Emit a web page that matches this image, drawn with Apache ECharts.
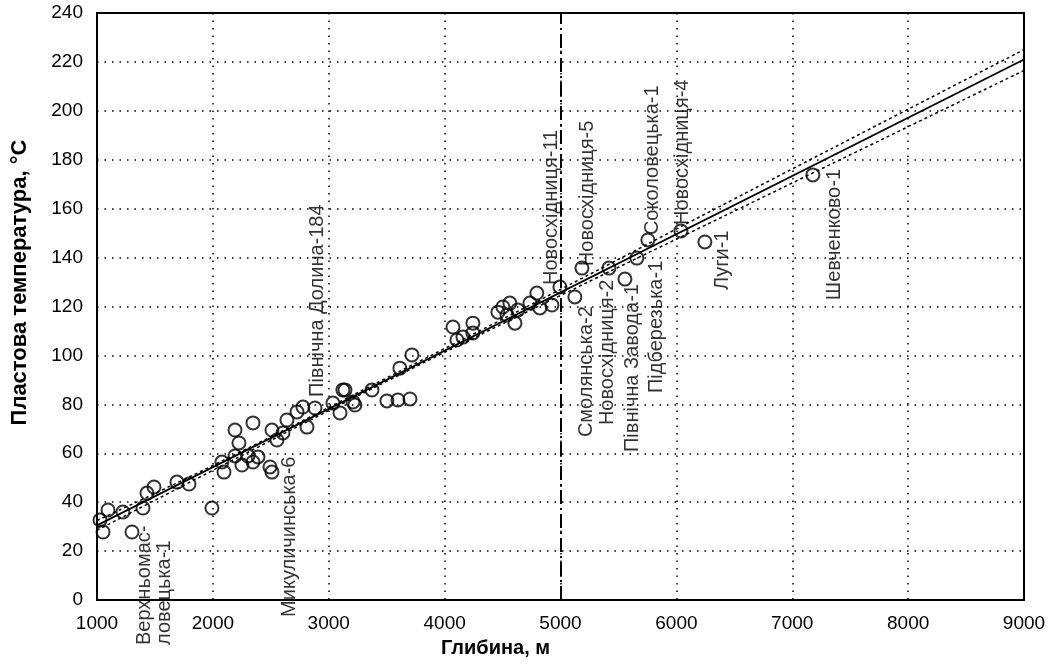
<!DOCTYPE html>
<html>
<head>
<meta charset="utf-8">
<script src="https://cdn.jsdelivr.net/npm/echarts@6/dist/echarts.min.js"></script>
<style>
  html, body { margin: 0; padding: 0; background: #fff; }
  #chart { width: 1057px; height: 664px; }
</style>
</head>
<body>
<div id="chart"></div>
<script>
// глибина (м) / пластова температура (°C)
var depth = [1052, 1026, 1095, 1224, 1302, 1397, 1431, 1492, 1690, 1794, 1992, 2078, 2096, 2191, 2225, 2191,
  2251, 2303, 2346, 2346, 2389, 2493, 2510, 2510, 2553, 2605, 2639, 2726, 2777, 2812, 2881, 3036, 3097, 3140,
  3209, 3122, 3226, 3373, 3502, 3597, 3701, 3614, 3718, 4072, 4106, 4158, 4244, 4244, 4460, 4503, 4563, 4538,
  4607, 4632, 4736, 4796, 4822, 4926, 4995,
  5124, 5185, 5418, 5556, 5659, 5754, 6039, 6246, 7178];
var temp = [27.8, 32.7, 36.8, 36, 27.8, 37.6, 43.7, 46.2, 48.2, 47.4, 37.6, 56.4, 52.3, 69.5, 64.2, 58.9,
  55.2, 58.9, 72.4, 56.4, 58.5, 54.4, 52.3, 69.5, 65.4, 68.3, 73.6, 76.9, 78.9, 70.7, 78.5, 80.5, 76.5, 85.9,
  81, 85.9, 79.7, 85.9, 81.4, 81.8, 82.2, 94.8, 100.2, 111.6, 106.3, 107.5, 113.2, 109.2, 117.7, 119.8, 121.4, 116.5,
  113.2, 118.6, 121.4, 125.5, 119.4, 120.6, 128,
  123.9, 135.7, 135.7, 131.2, 139.8, 147.2, 150.9, 146.4, 173.8];

// лінія регресії та довірчі межі
var trend = [[1000, 30.5], [9000, 221]];
var upperBand = [[1000, 32.5], [2000, 55], [3500, 90.8], [5000, 127], [6500, 164], [9000, 225]];
var lowerBand = [[1000, 28.5], [2000, 53], [3500, 89.4], [5000, 124.5], [6500, 159], [9000, 216.5]];

// підписи свердловин: назва, глибина і температура початку тексту
var wellNames = ['Верхньомас-\nловецька-1', 'Микуличинська-6', 'Північна Долина-184', 'Новосхідниця-11',
  'Новосхідниця-5', 'Смолянська-2', 'Новосхідниця-2', 'Північна Завода-1', 'Підберезька-1',
  'Соколовецька-1', 'Новосхідниця-4', 'Луги-1', 'Шевченково-1'];
var wellDepth = [1500, 2665, 2907, 4926, 5236, 5228, 5409, 5625, 5832, 5797, 6056, 6401, 7368];
var wellTemp = [-18.4, -6.9, 83, 128.8, 136.5, 66.6, 71.5, 60.5, 84.6, 149.2, 153.3, 126.7, 122.6];

var boundary = 5000;

var font = "'Liberation Sans', Arial, sans-serif";

var points = depth.map(function (d, i) { return [d, temp[i]]; });
var labels = wellNames.map(function (n, i) { return { name: n, value: [wellDepth[i], wellTemp[i]] }; });

var chart = echarts.init(document.getElementById('chart'));
chart.setOption({
  animation: false,
  backgroundColor: '#fff',
  grid: {
    left: 97, right: 33, top: 13, bottom: 64,
    show: true, borderColor: '#000', borderWidth: 2
  },
  xAxis: {
    type: 'value', min: 1000, max: 9000, interval: 1000,
    name: 'Глибина, м', nameLocation: 'middle', nameGap: 38,
    nameTextStyle: { fontFamily: font, fontSize: 20, fontWeight: 'bold', color: '#000', padding: [0, 130, 0, 0] },
    axisLine: { show: true, lineStyle: { color: '#000', width: 2 } },
    axisTick: { show: false },
    axisLabel: {
      fontFamily: font, fontSize: 19, color: '#000', margin: 14,
      formatter: function (v) { return String(v); }
    },
    splitLine: { show: true, lineStyle: { color: '#000', width: 1.5, type: [1.5, 6] } }
  },
  yAxis: {
    type: 'value', min: 0, max: 240, interval: 20,
    name: 'Пластова температура, °C', nameLocation: 'middle', nameGap: 66,
    nameTextStyle: { fontFamily: font, fontSize: 22, fontWeight: 'bold', color: '#000', padding: [0, 0, 0, 48] },
    axisLine: { show: true, lineStyle: { color: '#000', width: 2 } },
    axisTick: { show: false },
    axisLabel: { fontFamily: font, fontSize: 19, color: '#000', margin: 14 },
    splitLine: { show: true, lineStyle: { color: '#000', width: 1.5, type: [1.5, 6] } }
  },
  series: [
    {
      type: 'line', data: upperBand, symbol: 'none', smooth: true,
      lineStyle: { color: '#000', width: 1.5, type: [3, 3] }
    },
    {
      type: 'line', data: lowerBand, symbol: 'none', smooth: true,
      lineStyle: { color: '#000', width: 1.5, type: [3, 3] }
    },
    {
      type: 'line', data: trend, symbol: 'none',
      lineStyle: { color: '#000', width: 1.8 },
      markLine: {
        silent: true, symbol: 'none', label: { show: false },
        lineStyle: { color: '#000', width: 2, type: [14, 4, 2, 4] },
        data: [{ xAxis: boundary }]
      }
    },
    {
      type: 'scatter', data: points, symbol: 'circle', symbolSize: 13,
      itemStyle: { color: 'rgba(255,255,255,0)', borderColor: '#000', borderWidth: 2 }
    },
    {
      type: 'scatter', data: labels, symbolSize: 0, clip: false, silent: true,
      label: {
        show: true, position: 'inside', rotate: 90, align: 'left', verticalAlign: 'middle',
        formatter: '{b}', fontFamily: font, fontSize: 20, color: '#000', lineHeight: 20
      }
    }
  ]
});
</script>
</body>
</html>
